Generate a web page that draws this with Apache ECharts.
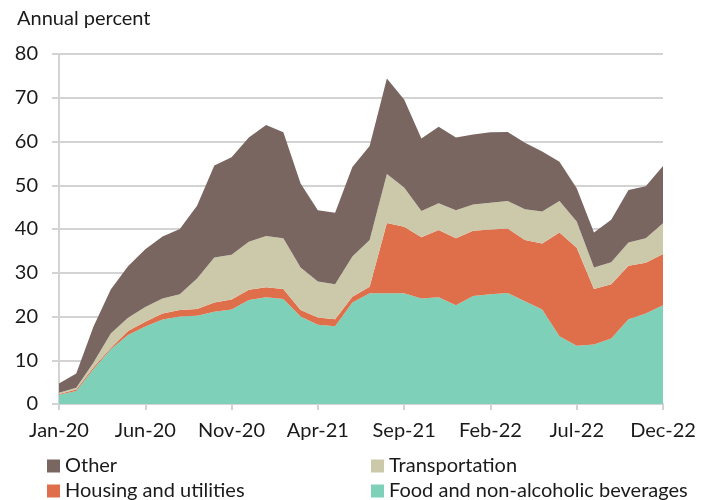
<!DOCTYPE html>
<html>
<head>
<meta charset="utf-8">
<script src="https://cdn.jsdelivr.net/npm/echarts@6/dist/echarts.min.js"></script>
<style>
  html, body { margin: 0; padding: 0; background: #fff; }
  #chart { width: 709px; height: 500px; }
</style>
</head>
<body>
<div id="chart"></div>
<script>
// Monthly contributions, Jan-20 to Dec-22 (annual percent)
const months = [
  'Jan-20','Feb-20','Mar-20','Apr-20','May-20','Jun-20','Jul-20','Aug-20','Sep-20','Oct-20','Nov-20','Dec-20',
  'Jan-21','Feb-21','Mar-21','Apr-21','May-21','Jun-21','Jul-21','Aug-21','Sep-21','Oct-21','Nov-21','Dec-21',
  'Jan-22','Feb-22','Mar-22','Apr-22','May-22','Jun-22','Jul-22','Aug-22','Sep-22','Oct-22','Nov-22','Dec-22'
];

const food = [
  2.1, 3.0, 8.0, 12.5, 15.8, 17.7, 19.3, 20.0, 20.2, 21.1, 21.6, 23.8,
  24.4, 24.0, 20.0, 18.1, 17.8, 23.2, 25.3, 25.3, 25.3, 24.1, 24.4, 22.6,
  24.7, 25.1, 25.4, 23.5, 21.6, 15.5, 13.3, 13.6, 15.0, 19.4, 20.7, 22.6
];

const housing = [
  0.2, 0.3, 0.4, 0.3, 0.9, 1.1, 1.4, 1.5, 1.5, 2.1, 2.3, 2.3,
  2.3, 2.3, 1.5, 1.7, 1.6, 1.3, 1.5, 16.1, 15.2, 14.0, 15.4, 15.3,
  14.9, 14.8, 14.7, 14.0, 15.1, 23.7, 22.4, 12.7, 12.4, 12.2, 11.6, 11.7
];

const transport = [
  0.3, 0.4, 1.1, 3.3, 3.0, 3.4, 3.4, 3.6, 7.0, 10.3, 10.2, 11.0,
  11.7, 11.6, 9.7, 8.2, 8.0, 9.2, 10.7, 11.2, 9.0, 6.0, 6.1, 6.4,
  6.0, 6.1, 6.3, 7.0, 7.3, 7.2, 6.0, 4.9, 5.0, 5.3, 5.6, 7.0
];

const other = [
  2.1, 3.3, 8.2, 10.1, 11.8, 13.2, 14.2, 14.9, 16.6, 21.0, 22.3, 23.8,
  25.4, 24.2, 19.2, 16.3, 16.3, 20.5, 21.5, 21.8, 20.1, 16.6, 17.5, 16.6,
  16.0, 16.1, 15.8, 15.2, 13.7, 9.0, 7.6, 8.0, 9.7, 12.0, 11.9, 13.1
];

const yTicks = { min: 0, max: 80, step: 10 };

const colors = {
  other: '#7a6661',
  transport: '#cbc9aa',
  housing: '#df6f4b',
  food: '#7ed0b8'
};

const fontFamily = 'Lato, "Open Sans", sans-serif';
const fontSize = 20;
const textColor = '#1a1a1a';
const gridColor = '#d3d3d3';

function areaSeries(name, data, color) {
  return {
    name: name,
    type: 'line',
    stack: 'total',
    data: data,
    symbol: 'none',
    lineStyle: { width: 0 },
    areaStyle: { color: color, opacity: 1 },
    itemStyle: { color: color },
    emphasis: { disabled: true },
    animation: false
  };
}

// One legend block per entry, laid out as a two-column key
function legendItem(name, left, top) {
  return {
    data: [name],
    left: left,
    top: top,
    padding: 0,
    itemWidth: 13,
    itemHeight: 13,
    icon: 'rect',
    textStyle: { fontSize: fontSize, color: textColor, fontFamily: fontFamily },
    selectedMode: false
  };
}

const chart = echarts.init(document.getElementById('chart'), null, { renderer: 'canvas' });

chart.setOption({
  animation: false,
  textStyle: { fontFamily: fontFamily },
  title: {
    text: 'Annual percent',
    left: 17,
    top: 9,
    padding: 0,
    textStyle: { fontFamily: fontFamily, fontSize: fontSize, fontWeight: 'normal', color: textColor }
  },
  grid: { left: 59, right: 46, top: 54, bottom: 96, containLabel: false },
  xAxis: {
    type: 'category',
    data: months,
    boundaryGap: false,
    axisLine: { lineStyle: { color: gridColor, width: 2 } },
    axisTick: { show: true, interval: 4, length: 6, lineStyle: { color: gridColor, width: 2 } },
    axisLabel: { interval: 4, margin: 17, fontSize: fontSize, color: textColor, fontFamily: fontFamily },
    splitLine: { show: false }
  },
  yAxis: {
    type: 'value',
    min: yTicks.min,
    max: yTicks.max,
    interval: yTicks.step,
    axisLine: { show: true, lineStyle: { color: gridColor, width: 2 } },
    axisTick: { show: true, length: 7, lineStyle: { color: gridColor, width: 2 } },
    axisLabel: { margin: 21, fontSize: fontSize, color: textColor, fontFamily: fontFamily },
    splitLine: { show: true, lineStyle: { color: gridColor, width: 2 } }
  },
  legend: [
    legendItem('Other', 47, 456),
    legendItem('Housing and utilities', 47, 481),
    legendItem('Transportation', 371, 456),
    legendItem('Food and non-alcoholic beverages', 371, 481)
  ],
  series: [
    areaSeries('Food and non-alcoholic beverages', food, colors.food),
    areaSeries('Housing and utilities', housing, colors.housing),
    areaSeries('Transportation', transport, colors.transport),
    areaSeries('Other', other, colors.other)
  ]
});
</script>
</body>
</html>
